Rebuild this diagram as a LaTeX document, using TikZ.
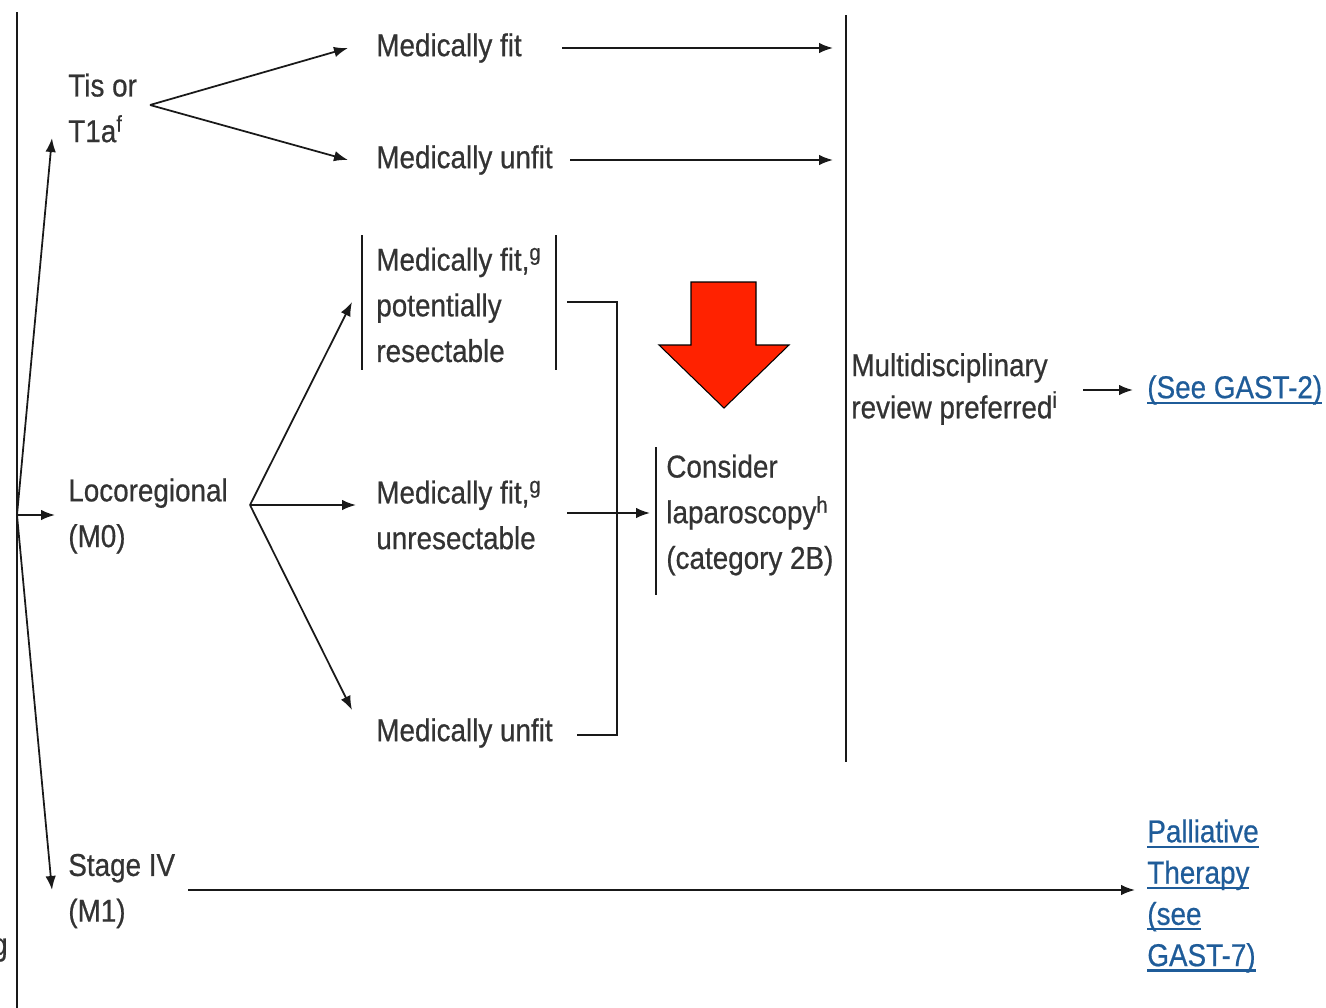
\documentclass[tikz,border=0pt]{standalone}
\usepackage{fontspec}
\setmainfont{Liberation Sans}[FakeStretch=0.88, FakeBold=0.6]
\usetikzlibrary{arrows.meta, positioning, calc}
\definecolor{txtgray}{HTML}{333333}
\definecolor{linkblue}{HTML}{1F5C99}
\definecolor{alertred}{HTML}{FF2200}

\newcommand{\linkline}[1]{\setbox0\hbox{#1}\rlap{\rule[-3.2pt]{\wd0}{1.3pt}}\box0}
\newcommand{\fnmark}[1]{\smash{\raisebox{0.33em}{\fontsize{13}{13}\selectfont #1}}}

\tikzset{
  lbl/.style={anchor=west, inner sep=0pt, align=left, text=txtgray,
    font=\fontsize{18}{26}\selectfont},
  link/.style={lbl, text=linkblue},
  conn/.style={-{Latex[length=2.8mm,width=2.1mm]}, line width=1pt, draw=black!90},
  rule/.style={line width=1pt, draw=black!90},
}

\begin{document}
\begin{tikzpicture}[x=0.02cm, y=-0.02cm]
  \useasboundingbox (0,0) rectangle (1326,1008);

  % stages
  \node[lbl] (tis) at (68,108) {Tis or\\T1a\fnmark{f}};
  \node[lbl] (loco) at (68,516) {Locoregional\\(M0)};
  \node[lbl] (stage4) at (68,891) {Stage IV\\(M1)};

  % fitness
  \node[lbl] (fit) at (376,48) {Medically fit};
  \node[lbl] (unfit) at (376,160) {Medically unfit};
  \node[lbl] (fitres) at (376,305) {Medically fit,\fnmark{g}\\potentially\\resectable};
  \node[lbl] (fitunres) at (376,515) {Medically fit,\fnmark{g}\\unresectable};
  \node[lbl] (unfitb) at (376,733) {Medically unfit};

  % next steps
  \node[lbl] (lap) at (666,515) {Consider\\laparoscopy\fnmark{h}\\(category 2B)};
  \node[lbl, font=\fontsize{18}{24}\selectfont] (mdt) at (851,389) {Multidisciplinary\\review preferred\fnmark{i}};
  \node[link] (gast2) at (1147,390) {\linkline{(See GAST-2)}};
  \node[link, font=\fontsize{18}{23.5}\selectfont] (pall) at (1147,896)
    {\linkline{Palliative}\\\linkline{Therapy}\\\linkline{(see}\\\linkline{GAST-7)}};

  % cut-off text at the left edge
  \begin{scope}
    \clip (0,0) rectangle (16,1008);
    \node[lbl, anchor=east] (cut) at (8,950) {g};
  \end{scope}

  % rules
  \draw[rule] (17,12) -- (17,1008);
  \coordinate (bartop) at (846,15);
  \coordinate (barbot) at (846,762);
  \draw[rule] (bartop) -- (barbot);
  \draw[rule] (362,235) -- (362,370);
  \draw[rule] (556,235) -- (556,370);
  \draw[rule] (656,447) -- (656,595);

  % fan from the left rule
  \coordinate (root) at (17,515);
  \coordinate (tisin) at (52,138);
  \coordinate (locoin) at (55,515);
  \coordinate (stagein) at (52,890);
  \draw[conn] (root) -- (tisin);
  \draw[conn] (root) -- (locoin);
  \draw[conn] (root) -- (stagein);

  % Tis or T1a
  \coordinate (tishub) at (150,105);
  \draw[conn] (tishub) -- (348,48);
  \draw[conn] (tishub) -- (348,160);
  \draw[conn] (562,48) -- (fit.east -| bartop) [shorten >=0.26cm];
  \draw[conn, shorten >=0.26cm] (570,160) -- (unfit.east -| bartop);

  % locoregional
  \coordinate (locohub) at (250,505);
  \draw[conn] (locohub) -- (352,302);
  \draw[conn] (locohub) -- (356,505);
  \draw[conn] (locohub) -- (352,710);

  % bracket into laparoscopy
  \coordinate (brktop) at (617,302);
  \coordinate (brkbot) at (617,735);
  \draw[rule] (567,302) -- (brktop) -- (brkbot) -- (577,735);
  \draw[conn] (567,513) -- (650,513);

  % to GAST pages
  \draw[conn] (1083,390) -- (1133,390);
  \draw[conn] (188,890) -- (1135,890);

  % red arrow
  \draw[fill=alertred, line width=0.6pt] (691,282) -- (756,282) -- (756,345) -- (789,345)
    -- (724,408) -- (659,345) -- (691,345) -- cycle;
\end{tikzpicture}
\end{document}
